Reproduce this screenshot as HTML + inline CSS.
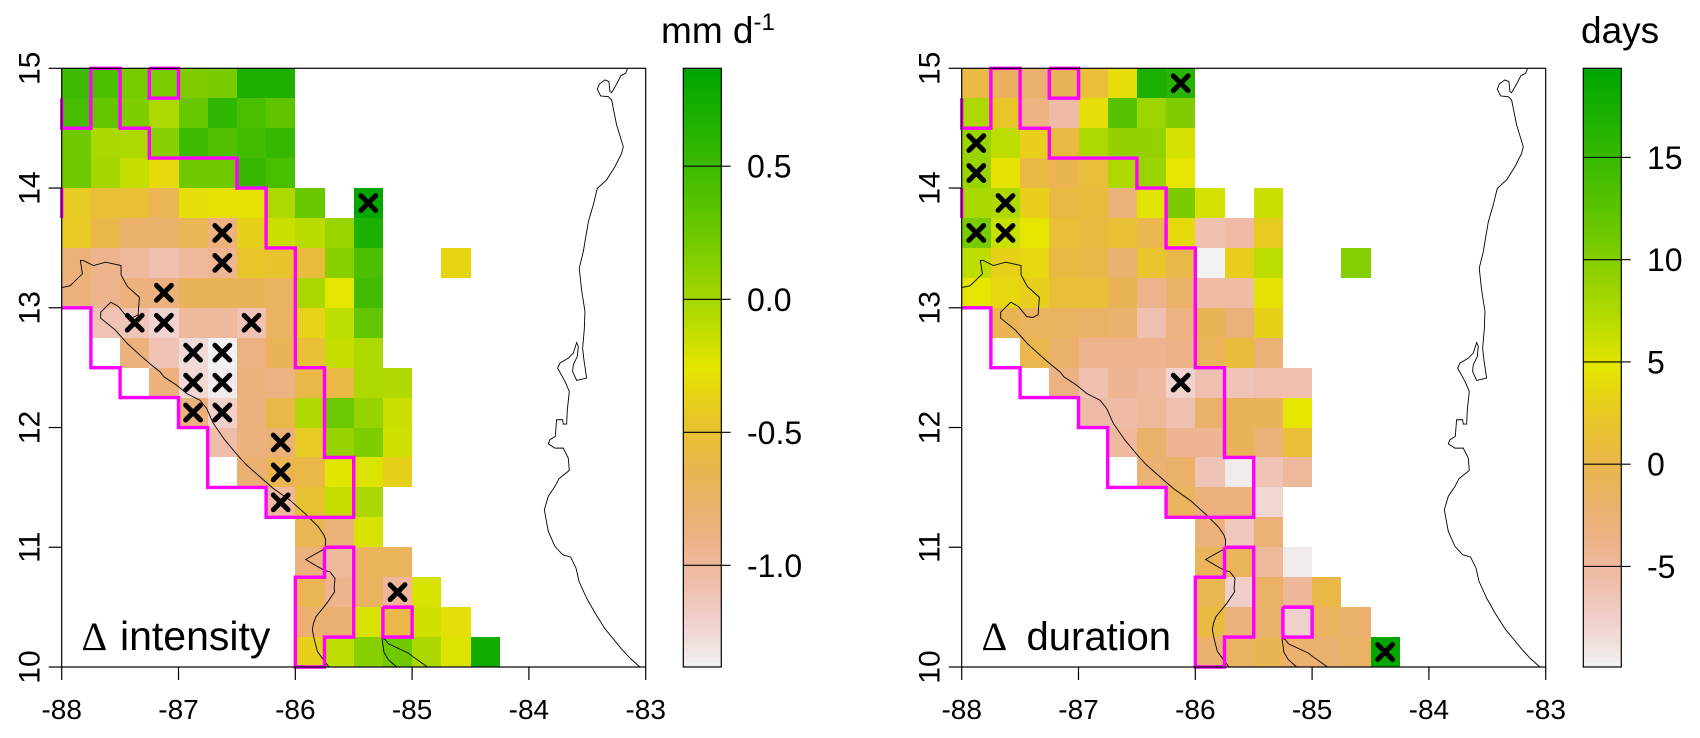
<!DOCTYPE html>
<html>
<head>
<meta charset="utf-8">
<title>Change in intensity and duration maps</title>
<style>
html,body{margin:0;padding:0;background:#fff;}
svg{display:block;}
text{font-family:"Liberation Sans",sans-serif;fill:#000;}
</style>
</head>
<body>
<svg id="figure" xmlns="http://www.w3.org/2000/svg" width="1700" height="738" viewBox="0 0 1700 738"></svg>
<script>
const _ = null;
const xTickLabels = [-88,-87,-86,-85,-84,-83];
const yTickLabels = [15,14,13,12,11,10];
const intensityTicks = [0.5,0,-0.5,-1];
const intensityTickText = ["0.5","0.0","-0.5","-1.0"];
const durationTicks = [15,10,5,0,-5];
const durationTickText = ["15","10","5","0","-5"];
const intensityRange = [-1.382,0.868];
const durationRange = [-9.92,19.36];

const intensityRows = [
[.50,.42,.22,.19,.17,.21,.69,.69],
[.45,.30,.18,-.03,.28,.58,.43,.33],
[.25,-.02,-.03,.13,.50,.40,.47,.54],
[.25,0,-.12,-.32,.25,.25,.54,.44],
[-.42,-.52,-.52,-.65,-.3,-.28,-.28,-.03,.27,_,.85],
[-.42,-.62,-.78,-.78,-.65,-.85,-.38,-.14,-.08,.06,.69],
[-.82,-.93,-1,-1.08,-1,-.95,-.46,-.47,-.55,.12,.42,_,_,-.35],
[-.85,-.93,-.85,-.85,-.68,-.68,-.68,-.72,-.02,-.25,.47],
[_,-1.1,-1.12,-1.22,-1,-1,-1.1,-.72,-.37,-.1,.3],
[_,_,-.85,-1.1,-1.27,-1.37,-.87,-.68,-.52,-.12,-.03],
[_,_,_,-.85,-1.25,-1.35,-.85,-.87,-.6,-.58,-.03,-.04],
[_,_,_,_,-.85,-1.2,-.85,-.6,-.04,.26,.07,-.14],
[_,_,_,_,_,-1.05,-.85,-.82,-.42,.07,.18,-.16],
[_,_,_,_,_,_,-.8,-.65,-.6,-.24,-.22,-.38],
[_,_,_,_,_,_,_,-1,-.5,-.12,-.02],
[_,_,_,_,_,_,_,_,-.65,-.82,-.2],
[_,_,_,_,_,_,_,_,-.85,-1,-.7,-.7],
[_,_,_,_,_,_,_,_,-.65,-.93,-.72,-.98,-.2],
[_,_,_,_,_,_,_,_,-.8,-.8,-.2,-.62,-.17,-.3],
[_,_,_,_,_,_,_,_,-.38,-.1,.14,.25,-.02,-.22,.75]
];

const durationRows = [
[.6,-1.1,-2.3,-.8,1.2,4.1,17,16.1],
[7.6,2.1,-3.2,-5.5,4.1,12.8,8.6,10.3],
[8.8,6.8,3,.6,7.6,9.1,9.1,5.6],
[8.8,4.5,.6,-.3,1.2,7.6,8.8,4.7],
[7.9,7.6,3,.6,.8,-2.8,5,10.6,5.6,_,6.2],
[10.7,6.2,4.7,1.2,.7,1.5,-.1,3.9,-6,-5.5,2.7],
[6.8,3.2,3.7,.6,.3,-2.2,1.9,0,-9.9,2.9,6.8,_,_,10],
[4.7,3.7,3,1.2,1.2,-.6,-3.8,-1.7,-5.3,-5.3,4.4],
[_,-.5,-1.2,-1.4,-1.7,-2.2,-6,-3.2,-.6,-2.8,3.2],
[_,_,-.1,-1.9,-4,-4,-4,-3.5,-1,1,-2.5],
[_,_,_,-3.4,-6,-4.2,-5,-7.8,-6,-6.5,-6,-6],
[_,_,_,_,-5.5,-5.5,-4.8,-6,-2,-.9,-.9,4.7],
[_,_,_,_,_,-5,-1.9,-4.2,-4.2,-.9,-2.8,1.2],
[_,_,_,_,_,_,-2.5,-1.8,-6.5,-9.5,-6.5,-4.8],
[_,_,_,_,_,_,_,-1,-3,-3,-8],
[_,_,_,_,_,_,_,_,-3,-6.8,-2.5],
[_,_,_,_,_,_,_,_,-1,-1,-4.8,-9.5],
[_,_,_,_,_,_,_,_,-.2,-7.5,-1.7,-4.6,.2],
[_,_,_,_,_,_,_,_,.7,-3,-2,-7.6,-1.3,-2],
[_,_,_,_,_,_,_,_,-2.2,-1.4,-.6,-2.2,-2.2,-1.6,19.3]
];

const intensitySignificant = [
[-85.375,13.875],[-86.625,13.625],[-86.625,13.375],[-87.125,13.125],
[-87.375,12.875],[-87.125,12.875],[-86.375,12.875],[-86.875,12.625],
[-86.625,12.625],[-86.875,12.375],[-86.625,12.375],[-86.875,12.125],
[-86.625,12.125],[-86.125,11.875],[-86.125,11.625],[-86.125,11.375],
[-85.125,10.625]
];
const durationSignificant = [
[-86.125,14.875],[-87.875,14.375],[-87.875,14.125],[-87.625,13.875],
[-87.875,13.625],[-87.625,13.625],[-86.125,12.375],[-84.375,10.125]
];

const regionOutlines = [
[[-88,14.75],[-88,14.5],[-87.75,14.5],[-87.75,15],[-87.5,15],[-87.5,14.5],[-87.25,14.5],[-87.25,14.25],[-86.5,14.25],[-86.5,14],[-86.25,14],[-86.25,13.5],[-86,13.5],[-86,12.5],[-85.75,12.5],[-85.75,11.75],[-85.5,11.75],[-85.5,11.25],[-86.25,11.25],[-86.25,11.5],[-86.75,11.5],[-86.75,12],[-87,12],[-87,12.25],[-87.5,12.25],[-87.5,12.5],[-87.75,12.5],[-87.75,13],[-88,13]],
[[-88,14],[-88,13.75]],
[[-87.25,15],[-87,15],[-87,14.75],[-87.25,14.75],[-87.25,15]],
[[-85.75,11],[-85.5,11],[-85.5,10.25],[-85.75,10.25],[-85.75,10],[-86,10],[-86,10.75],[-85.75,10.75],[-85.75,11]],
[[-85.25,10.5],[-85,10.5],[-85,10.25],[-85.25,10.25],[-85.25,10.5]]
];

const pacificCoast = [[-88,13.169],[-87.929,13.183],[-87.823,13.283],[-87.84,13.395],[-87.815,13.395],[-87.729,13.353],[-87.623,13.381],[-87.492,13.353],[-87.492,13.275],[-87.438,13.178],[-87.335,13.088],[-87.346,12.941],[-87.392,12.919],[-87.443,12.927],[-87.515,13.011],[-87.58,13.047],[-87.666,12.963],[-87.666,12.913],[-87.543,12.816],[-87.438,12.701],[-87.329,12.604],[-87.229,12.52],[-87.158,12.465],[-87.124,12.423],[-87.015,12.353],[-86.93,12.284],[-86.816,12.228],[-86.759,12.159],[-86.701,12.033],[-86.602,11.894],[-86.482,11.755],[-86.416,11.686],[-86.302,11.588],[-86.188,11.491],[-86.045,11.393],[-85.902,11.268],[-85.86,11.226],[-85.803,11.171],[-85.754,11.101],[-85.74,11.06],[-85.745,10.99],[-85.831,10.943],[-85.911,10.898],[-85.831,10.851],[-85.745,10.804],[-85.703,10.795],[-85.66,10.74],[-85.668,10.656],[-85.663,10.628],[-85.731,10.531],[-85.823,10.42],[-85.845,10.364],[-85.854,10.308],[-85.837,10.228],[-85.811,10.13],[-85.76,10.061],[-85.711,10]];
const nicoyaCoast = [[-85.132,10],[-85.203,10.061],[-85.241,10.122],[-85.258,10.242],[-85.229,10.228],[-85.203,10.194],[-85.032,10.116],[-84.989,10.083],[-84.867,10]];
const caribbeanCoast = [[-83.155,15],[-83.172,14.958],[-83.212,14.939],[-83.249,14.869],[-83.292,14.797],[-83.306,14.805],[-83.315,14.889],[-83.349,14.903],[-83.397,14.869],[-83.414,14.825],[-83.386,14.769],[-83.32,14.763],[-83.292,14.736],[-83.249,14.527],[-83.192,14.346],[-83.206,14.29],[-83.263,14.179],[-83.335,14.068],[-83.414,13.998],[-83.449,13.859],[-83.491,13.72],[-83.534,13.47],[-83.569,13.331],[-83.549,13.15],[-83.52,12.969],[-83.526,12.816],[-83.54,12.663],[-83.529,12.566],[-83.506,12.413],[-83.591,12.393],[-83.626,12.468],[-83.62,12.524],[-83.586,12.593],[-83.577,12.677],[-83.591,12.71],[-83.62,12.621],[-83.663,12.579],[-83.734,12.538],[-83.754,12.496],[-83.691,12.385],[-83.654,12.301],[-83.671,12.148],[-83.677,12.029],[-83.706,12.029],[-83.711,12.065],[-83.763,12.065],[-83.774,11.926],[-83.82,11.898],[-83.834,11.864],[-83.777,11.828],[-83.706,11.828],[-83.663,11.745],[-83.654,11.642],[-83.743,11.572],[-83.777,11.508],[-83.834,11.425],[-83.868,11.313],[-83.834,11.133],[-83.777,11.007],[-83.711,10.938],[-83.643,10.918],[-83.597,10.827],[-83.571,10.715],[-83.506,10.576],[-83.434,10.451],[-83.349,10.32],[-83.206,10.15],[-83.13,10.07],[-83.05,10]];

const SVGNS = "http://www.w3.org/2000/svg";
const figure = document.getElementById("figure");
function el(tag, attrs, parent){
  const e = document.createElementNS(SVGNS, tag);
  for (const k in attrs) e.setAttribute(k, attrs[k]);
  parent.appendChild(e);
  return e;
}
function hsv(h,s,v){
  const f = n => { const k=(n+h/60)%6; return v-v*s*Math.max(0,Math.min(k,4-k,1)); };
  return "rgb("+Math.round(f(5)*255)+","+Math.round(f(3)*255)+","+Math.round(f(1)*255)+")";
}
function terrain(t){
  t = Math.max(0,Math.min(1,t));
  if (t>=0.5){ const u=(t-0.5)*2; return hsv(60+60*u,1,0.9-0.25*u); }
  const u=t*2; return hsv(60*u,u,0.95-0.05*u);
}
function linePath(points,xf,yf){
  return points.map((p,i)=>(i?"L":"M")+xf(p[0]).toFixed(2)+" "+yf(p[1]).toFixed(2)).join("");
}

function drawPanel(opts){
  const dx = opts.offset;
  const left = 61.7+dx, right = 645.7+dx, top = 68.3, bottom = 667;
  const xAxis = lon => left+(lon+88)*(right-left)/5;
  const yAxis = lat => top+(15-lat)*(bottom-top)/5;
  const norm = v => (v-opts.range[0])/(opts.range[1]-opts.range[0]);

  const panel = el("g",{},figure);
  
  

  opts.rows.forEach((row,r)=>{
    row.forEach((val,c)=>{
      if (val===null) return;
      const lon0=-88+c*0.25, lat1=15-r*0.25;
      const x0=Math.round(xAxis(lon0)), x1=Math.round(xAxis(lon0+0.25));
      const y0=Math.round(yAxis(lat1)), y1=Math.round(yAxis(lat1-0.25));
      const cell = el("rect",{x:x0,y:y0,width:x1-x0,height:y1-y0,fill:terrain(norm(val)),"shape-rendering":"crispEdges"},panel);
      
      
    });
  });

  [pacificCoast,nicoyaCoast,caribbeanCoast].forEach(line=>{
    const coast = el("path",{d:linePath(line,xAxis,yAxis),fill:"none",stroke:"#000","stroke-width":0.9},panel);
    
    
  });

  regionOutlines.forEach(line=>{
    const outline = el("path",{d:linePath(line,xAxis,yAxis),fill:"none",stroke:"#ff00ff","stroke-width":3.4,"stroke-linejoin":"miter"},panel);
    
    
  });

  opts.significant.forEach(p=>{
    const cx=xAxis(p[0]), cy=yAxis(p[1]), h=7.4;
    const mark = el("path",{d:"M"+(cx-h)+" "+(cy-h)+"L"+(cx+h)+" "+(cy+h)+"M"+(cx-h)+" "+(cy+h)+"L"+(cx+h)+" "+(cy-h),stroke:"#000","stroke-width":5,"stroke-linecap":"round",fill:"none"},panel);
    
    
  });

  const box = el("rect",{x:left,y:top,width:right-left,height:bottom-top,fill:"none",stroke:"#000","stroke-width":1.2},panel);
  
  

  xTickLabels.forEach(v=>{
    const px=xAxis(v);
    const tick = el("line",{x1:px,x2:px,y1:bottom,y2:bottom+13,stroke:"#000","stroke-width":1.2},panel);
    
    
    const label = el("text",{x:px,y:719,"text-anchor":"middle","font-size":28},panel);
    label.textContent = String(v);
    
    
  });
  yTickLabels.forEach(v=>{
    const py=yAxis(v);
    const tick = el("line",{x1:left-13,x2:left,y1:py,y2:py,stroke:"#000","stroke-width":1.2},panel);
    
    
    const bx=39.3+dx;
    const label = el("text",{x:bx,y:py,"text-anchor":"middle","font-size":30,transform:"rotate(-90 "+bx+" "+py+")"},panel);
    label.textContent = String(v);
    
    
  });

  const delta = el("text",{x:81.5+dx,y:650,"font-size":40,style:'font-family:"Liberation Serif",serif'},panel);
  delta.textContent = "\u0394";
  
  
  const ptitle = el("text",{x:opts.labelX+dx,y:650,"font-size":opts.labelSize},panel);
  ptitle.textContent = opts.label;
  
  

  // colour bar
  const cbL=683.3+dx, cbR=721.3+dx;
  const cbY = v => bottom-norm(v)*(bottom-top);
  const steps=120;
  for(let i=0;i<steps;i++){
    const y0=bottom-(i+1)*(bottom-top)/steps, h=(bottom-top)/steps+0.6;
    const s = el("rect",{x:cbL,y:y0,width:cbR-cbL,height:h,fill:terrain((i+0.5)/steps),"shape-rendering":"crispEdges"},panel);
    
    
  }
  const cbBox = el("rect",{x:cbL,y:top,width:cbR-cbL,height:bottom-top,fill:"none",stroke:"#000","stroke-width":1.2},panel);
  
  
  opts.ticks.forEach((v,i)=>{
    const py=cbY(v);
    const tick = el("line",{x1:cbL,x2:730.7+dx,y1:py,y2:py,stroke:"#000","stroke-width":1.1},panel);
    
    
    const label = el("text",{x:747+dx,y:py+11.5,"font-size":32},panel);
    label.textContent = opts.tickText[i];
    
    
  });

  const unit = el("text",{x:opts.unitX,y:43,"font-size":37},panel);
  unit.textContent = opts.unit;
  
  
  if (opts.unitSup){
    const sup = el("tspan",{dy:-13,"font-size":24},unit);
    sup.textContent = opts.unitSup;
    
    
  }
}

drawPanel({name:"intensity",offset:0,rows:intensityRows,range:intensityRange,significant:intensitySignificant,ticks:intensityTicks,tickText:intensityTickText,unit:"mm d",unitSup:"-1",unitX:661,label:"intensity",labelX:120,labelSize:41});
drawPanel({name:"duration",offset:900,rows:durationRows,range:durationRange,significant:durationSignificant,ticks:durationTicks,tickText:durationTickText,unit:"days",unitSup:"",unitX:1581,label:"duration",labelX:126.5,labelSize:40});
</script>
</body>
</html>
